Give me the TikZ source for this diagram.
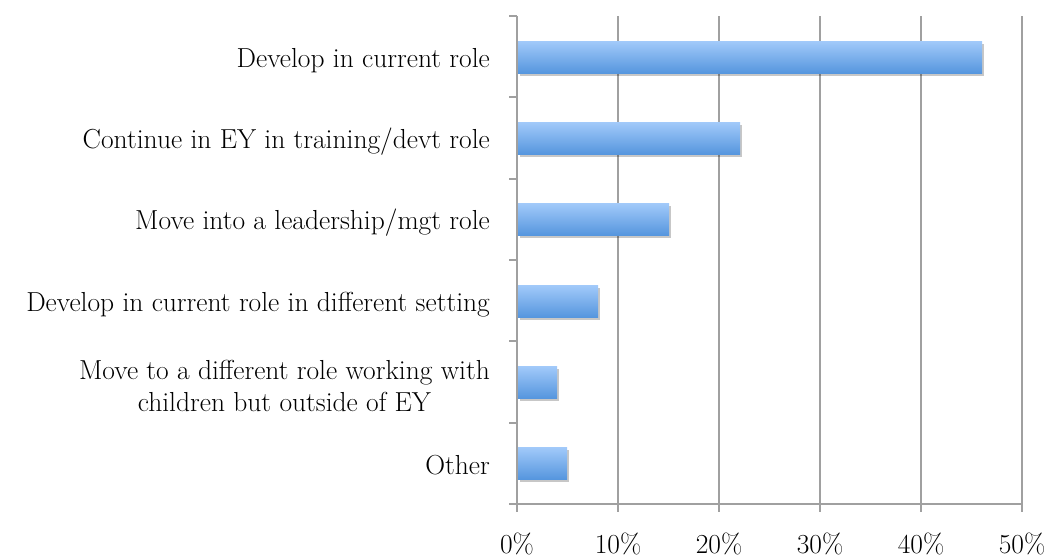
\documentclass[tikz,border=0pt]{standalone}
\usetikzlibrary{shadows}
\definecolor{barTop}{RGB}{162,202,250}
\definecolor{barBot}{RGB}{86,150,222}
\definecolor{axisGray}{RGB}{160,160,160}
\tikzset{
  bar/.style={top color=barTop,bottom color=barBot,
    drop shadow={shadow xshift=2pt,shadow yshift=-3pt,opacity=.22,fill=black}},
  gridline/.style={axisGray,line width=1.6pt},
  catlabel/.style={anchor=base east,align=center,inner sep=0pt,font=\fontsize{27.5}{32}\selectfont},
  pctlabel/.style={anchor=base,inner sep=0pt,font=\fontsize{27.5}{32}\selectfont}
}
\begin{document}
\begin{tikzpicture}[x=1pt,y=-1pt]
			\useasboundingbox (0,0) rectangle (1051,557);
			\coordinate (o) at (517,504);
			\coordinate (t) at (517,16);

			% rejilla
			\draw[gridline] (618,16) -- (618,512);
			\draw[gridline] (719,16) -- (719,512);
			\draw[gridline] (820,16) -- (820,512);
			\draw[gridline] (921,16) -- (921,512);
			\draw[gridline] (1022,16) -- (1022,512);

			% ejes
			\draw[gridline] (t) -- (o) -- (1022,504);
			\draw[gridline] (o) -- +(0,8);
			\draw[gridline] (o) -- +(-8,0);
			\draw[gridline] (517,423) -- +(-8,0);
			\draw[gridline] (517,341) -- +(-8,0);
			\draw[gridline] (517,260) -- +(-8,0);
			\draw[gridline] (517,179) -- +(-8,0);
			\draw[gridline] (517,97) -- +(-8,0);
			\draw[gridline] (t) -- +(-8,0);

			% barras
			\fill[bar] (518,41) rectangle (982,73);
			\fill[bar] (518,122) rectangle (740,154);
			\fill[bar] (518,203) rectangle (669,235);
			\fill[bar] (518,285) rectangle (598,317);
			\fill[bar] (518,366) rectangle (557,398);
			\fill[bar] (518,447) rectangle (567,479);

			% categorias
			\node[catlabel] (c1) at (490,67) {Develop in current role};
			\node[catlabel] (c2) at (490,148) {Continue in EY in training/devt role};
			\node[catlabel] (c3) at (490,229) {Move into a leadership/mgt role};
			\node[catlabel] (c4) at (490,311) {Develop in current role in different setting};
			\node[catlabel] (c5) at (490,411) {Move to a different role working with\\children but outside of EY};
			\node[catlabel] (c6) at (490,474) {Other};

			% porcentajes
			\node[pctlabel] (p0) at (517,553) {0\%};
			\node[pctlabel] (p1) at (618,553) {10\%};
			\node[pctlabel] (p2) at (719,553) {20\%};
			\node[pctlabel] (p3) at (820,553) {30\%};
			\node[pctlabel] (p4) at (921,553) {40\%};
			\node[pctlabel] (p5) at (1022,553) {50\%};
		    \end{tikzpicture}
\end{document}
